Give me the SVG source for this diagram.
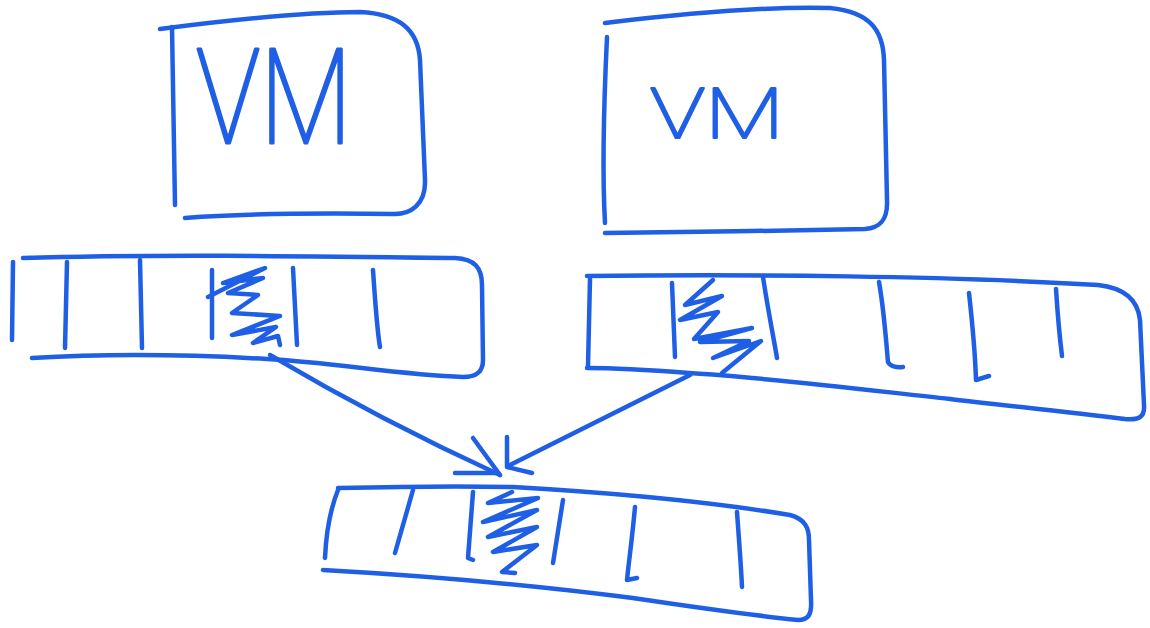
<svg xmlns="http://www.w3.org/2000/svg" width="1150" height="628" viewBox="0 0 1150 628">
<style>
.s{fill:none;stroke:#1f5fe6;stroke-width:4.5;stroke-linecap:round;stroke-linejoin:round}
.t{fill:#1f5fe6;stroke:#1f5fe6;stroke-linejoin:round;font-family:Roboto,"Liberation Sans",sans-serif;font-weight:100}
</style>
<rect width="1150" height="628" fill="#ffffff"/>
<g id="vm1">
<path class="s" d="M160,29 C230,20 300,12 360,12 C400,14 418,30 420,60 L425,180 C426,205 410,214 395,214 C320,213 250,213 185,218"/>
<path class="s" d="M172,27 L175,205"/>
<text class="t" x="196" y="143" font-size="132" stroke-width="3.2" textLength="156" lengthAdjust="spacingAndGlyphs">VM</text>
</g>
<g id="vm2">
<path class="s" d="M605,23 C680,14 760,6 830,8 C870,12 883,30 884,60 L887,200 C888,220 880,228 865,229 C780,231 690,232 605,233"/>
<path class="s" d="M607,37 C604,100 602,170 605,223"/>
<text class="t" x="650" y="138" font-size="70" stroke-width="2.2" textLength="134" lengthAdjust="spacingAndGlyphs">VM</text>
</g>
<g id="buffer1">
<path class="s" d="M23,258 C150,254 300,256 455,258 C475,259 482,268 482,285 L483,360 C483,373 475,377 463,377 C400,375 330,362 267,359 C180,354 100,354 32,358"/>
<path class="s" d="M13,262 L12,340"/>
<path class="s" d="M67,262 L65,348 M140,260 L142,348 M212,270 L212,338 M293,268 L297,345 M373,270 C375,300 377,330 380,347"/>
<path class="s" d="M208,297 L265,268 L223,283 L263,278 L228,293 L258,295 L232,313 L280,316 L232,335 L276,327 L253,343 L278,336 L280,345"/>
</g>
<g id="buffer2">
<path class="s" d="M587,276 C750,274 950,276 1098,285 C1125,288 1138,300 1140,320 L1144,405 C1145,418 1138,420 1125,419 C1070,412 1000,405 950,399 C850,388 760,377 689,373 C650,370 620,368 587,368"/>
<path class="s" d="M590,279 L588,366"/>
<path class="s" d="M672,283 L675,357 M763,277 C768,310 774,340 777,358 M879,282 C884,310 886,340 888,362 C890,366 896,368 903,367 M969,293 C972,320 975,350 976,380 L989,376 M1056,289 C1058,320 1060,340 1062,356"/>
<path class="s" d="M713,280 L685,305 L722,296 L680,320 L718,312 L694,339 L752,328 L700,342 L749,341 L713,358 L761,341 L722,373"/>
</g>
<g id="buffer3">
<path class="s" d="M338,488 C420,486 470,486 513,487 C600,492 700,500 790,515 C805,519 809,528 809,540 L811,600 C812,615 808,620 798,620 C740,614 680,605 633,598 C540,586 430,576 323,570"/>
<path class="s" d="M338,490 C330,510 326,535 325,558"/>
<path class="s" d="M413,490 L395,553 M473,492 L468,558 L473,560 M563,500 L553,563 M635,507 C632,540 629,560 627,580 L637,578 M737,512 C739,540 741,565 742,587"/>
<path class="s" d="M512,492 L488,503 L538,498 L483,522 L537,510 L488,537 L537,527 L493,552 L537,545 L502,572 L515,573"/>
</g>
<g id="connectors">
<path class="s" d="M270,355 Q380,420 500,475"/>
<path class="s" d="M473,438 L500,475 M455,473 L498,473"/>
<path class="s" d="M690,375 L508,466"/>
<path class="s" d="M507,437 L507,467 L532,473"/>
</g>
</svg>
